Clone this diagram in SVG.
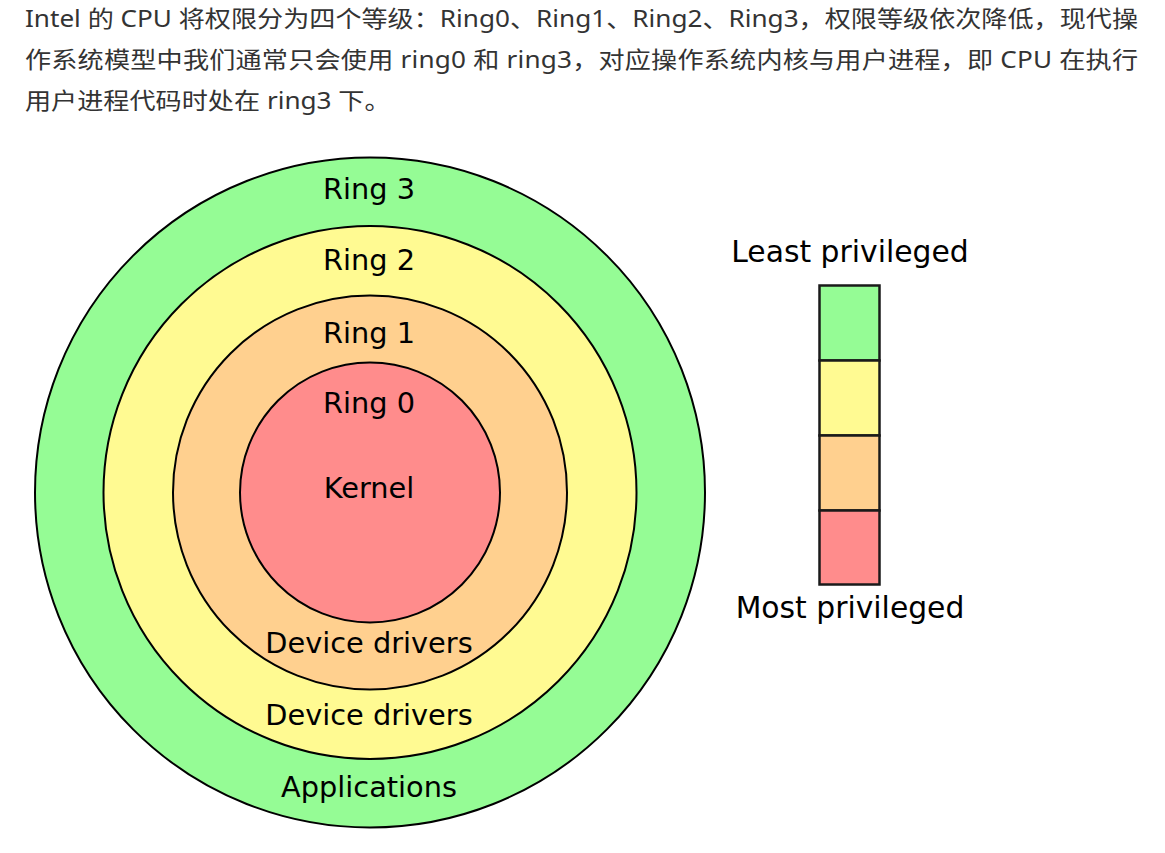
<svg xmlns="http://www.w3.org/2000/svg" width="1165" height="853" viewBox="0 0 1165 853">
<style>
.para{font-family:"Noto Sans","Noto Sans CJK SC",sans-serif;font-size:23px;fill:#333333}
.lbl{font-family:"DejaVu Sans",sans-serif;font-size:28.8px;fill:#000000;text-anchor:middle}
.leg{font-size:29.8px}
.ring{stroke:#000000;stroke-width:2}
.seg{stroke:#1a1a1a;stroke-width:2.5}
.g{fill:#95fc95}.y{fill:#fffa92}.o{fill:#ffd08f}.r{fill:#ff8c8c}
</style>
<rect width="1165" height="853" fill="#ffffff"/>
<g id="paragraph" transform="scale(1.136,1)">
<text class="para" x="22" y="27.5" textLength="979.8" lengthAdjust="spacing">Intel 的 CPU 将权限分为四个等级：Ring0、Ring1、Ring2、Ring3，权限等级依次降低，现代操</text>
<text class="para" x="22" y="68.3" textLength="979.8" lengthAdjust="spacing">作系统模型中我们通常只会使用 ring0 和 ring3，对应操作系统内核与用户进程，即 CPU 在执行</text>
<text class="para" x="22" y="109.5">用户进程代码时处在 ring3 下。</text>
</g>
<g id="ring3"><circle class="ring g" cx="370" cy="492.5" r="335"/><text class="lbl" x="369" y="199">Ring 3</text><text class="lbl" x="369" y="797">Applications</text></g>
<g id="ring2"><circle class="ring y" cx="370" cy="492.5" r="266.5"/><text class="lbl" x="369" y="270">Ring 2</text><text class="lbl" x="369" y="725">Device drivers</text></g>
<g id="ring1"><circle class="ring o" cx="370" cy="492.5" r="197"/><text class="lbl" x="369" y="342.5">Ring 1</text><text class="lbl" x="369" y="653">Device drivers</text></g>
<g id="ring0"><circle class="ring r" cx="370" cy="492.5" r="130"/><text class="lbl" x="369" y="413">Ring 0</text><text class="lbl" x="369" y="498">Kernel</text></g>
<g id="legend">
<text class="lbl leg" x="850" y="261.5">Least privileged</text>
<rect class="seg g" x="819.5" y="285.5" width="60" height="75"/>
<rect class="seg y" x="819.5" y="360.5" width="60" height="75"/>
<rect class="seg o" x="819.5" y="435.5" width="60" height="75"/>
<rect class="seg r" x="819.5" y="510.5" width="60" height="74"/>
<text class="lbl leg" x="850" y="618">Most privileged</text>
</g>
<g id="connectors"></g>
</svg>
